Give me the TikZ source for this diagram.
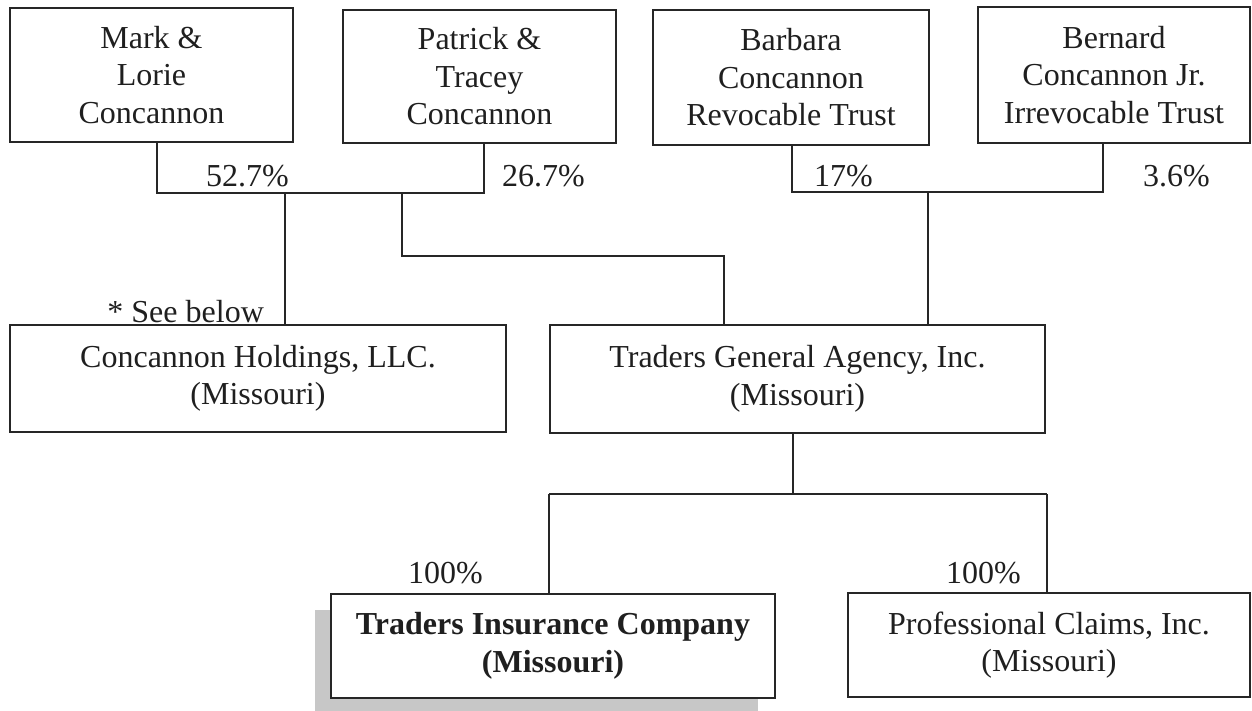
\documentclass[tikz,border=0pt]{standalone}
\usepackage{fontspec}
\setmainfont{Liberation Serif}
\begin{document}
\begin{tikzpicture}[x=1pt,y=-1pt,
  line width=2.3pt, draw=black!85, text=black!88,
  box/.style={draw, fill=white, inner sep=0pt, align=center,
    font=\fontsize{32}{37.5}\selectfont},
  lbl/.style={inner sep=0pt, font=\fontsize{32}{37.5}\selectfont},
  conn/.style={line width=2.2pt, draw=black!85}]
\useasboundingbox (0,0) rectangle (1252,711);
% shadow behind Traders Insurance Company
\fill[black!22] (315,610) rectangle (758,711);
% top row
\node[box, minimum width=283pt, minimum height=134pt] (mark) at (151.5,75) {Mark \&\\Lorie\\Concannon};
\node[box, minimum width=273pt, minimum height=133pt] (patrick) at (479.5,76.5) {Patrick \&\\Tracey\\Concannon};
\node[box, minimum width=276pt, minimum height=135pt] (barbara) at (791,77.5) {Barbara\\Concannon\\Revocable Trust};
\node[box, minimum width=272pt, minimum height=136pt] (bernard) at (1114,75) {Bernard\\Concannon Jr.\\Irrevocable Trust};
% middle row
\node[box, minimum width=496pt, minimum height=107pt] (holdings) at (258,378.5) {Concannon Holdings, LLC.\\(Missouri)};
\node[box, minimum width=495pt, minimum height=108pt] (tga) at (797.5,379) {Traders General Agency, Inc.\\(Missouri)};
% bottom row
\node[box, minimum width=444pt, minimum height=104pt] (tic) at (553,646) {\bfseries Traders Insurance Company\\\bfseries (Missouri)};
\node[box, minimum width=402pt, minimum height=104pt] (pci) at (1049,645) {Professional Claims, Inc.\\(Missouri)};
% junction coordinates
\coordinate (m1) at (157,193);
\coordinate (p1) at (484,193);
\coordinate (h1) at (285,193);
\coordinate (t1) at (402,193);
\coordinate (t2) at (402,256);
\coordinate (t3) at (724,256);
\coordinate (b1) at (792,192);
\coordinate (b2) at (1103,192);
\coordinate (b3) at (928,192);
\coordinate (g1) at (793,494);
\coordinate (i1) at (549,494);
\coordinate (c1) at (1047,494);
% connectors
\draw[conn] (mark.south -| m1) -- (m1) -- (p1) -- (patrick.south -| p1);
\draw[conn] (h1) -- (holdings.north -| h1);
\draw[conn] (t1) -- (t2) -- (t3) -- (tga.north -| t3);
\draw[conn] (barbara.south -| b1) -- (b1) -- (b2) -- (bernard.south -| b2);
\draw[conn] (b3) -- (tga.north -| b3);
\draw[conn] (tga.south -| g1) -- (g1);
\draw[conn] (i1) -- (c1);
\draw[conn] (i1) -- (tic.north -| i1);
\draw[conn] (c1) -- (pci.north -| c1);
% labels
\node[lbl, anchor=west] (l1) at (205,176) {52.7\%};
\node[lbl, anchor=west] (l2) at (501,176) {26.7\%};
\node[lbl, anchor=west] (l3) at (813,176) {17\%};
\node[lbl, anchor=west] (l4) at (1142,176) {3.6\%};
\node[lbl, anchor=east] (l5) at (265,312) {* See below};
\node[lbl, anchor=east] (l6) at (484,573) {100\%};
\node[lbl, anchor=east] (l7) at (1022,573) {100\%};
\end{tikzpicture}
\end{document}
